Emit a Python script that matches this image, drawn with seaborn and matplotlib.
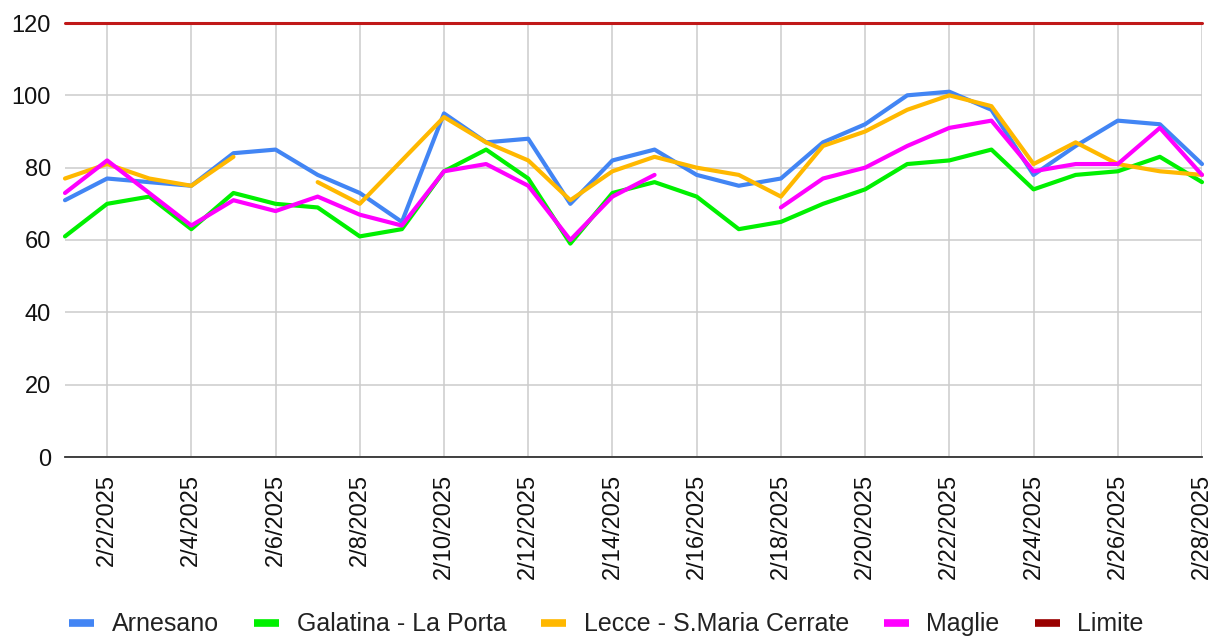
import numpy as np
import pandas as pd
import seaborn as sns
import matplotlib.pyplot as plt
from matplotlib.lines import Line2D

nan = np.nan

# Days of February 2025
days = list(range(1, 29))
tick_days = list(range(2, 29, 2))
tick_labels = [f"2/{d}/2025" for d in tick_days]

# Daily values (nan = no data)
arnesano = [71, 77, 76, 75, 84, 85, 78, 73, 65, 95, 87, 88, 70, 82,
            85, 78, 75, 77, 87, 92, 100, 101, 96, 78, 86, 93, 92, 81]
galatina = [61, 70, 72, 63, 73, 70, 69, 61, 63, 79, 85, 77, 59, 73,
            76, 72, 63, 65, 70, 74, 81, 82, 85, 74, 78, 79, 83, 76]
lecce = [77, 81, 77, 75, 83, nan, 76, 70, 82, 94, 87, 82, 71, 79,
         83, 80, 78, 72, 86, 90, 96, 100, 97, 81, 87, 81, 79, 78]
maglie = [73, 82, 73, 64, 71, 68, 72, 67, 64, 79, 81, 75, 60, 72,
          78, nan, nan, 69, 77, 80, 86, 91, 93, 79, 81, 81, 91, 78]
limite = [120] * 28

series_names = ["Arnesano", "Galatina - La Porta", "Lecce - S.Maria Cerrate", "Maglie", "Limite"]
series_values = [arnesano, galatina, lecce, maglie, limite]
colors = ["#4285F4", "#00F000", "#FFB800", "#FF00FF", "#C01818"]
legend_colors = ["#4285F4", "#00F000", "#FFB800", "#FF00FF", "#990000"]

sns.set_theme(style="whitegrid")
plt.rcParams['font.family'] = ['Liberation Sans', 'DejaVu Sans']

fig = plt.figure(figsize=(12.13, 6.37), dpi=100)
ax = fig.add_axes([65 / 1213, 1 - 457 / 637, (1202 - 65) / 1213, (457 - 23) / 637])

for name, vals, col in zip(series_names, series_values, colors):
    df = pd.DataFrame({"day": days, "value": vals})
    # break the line where data is missing
    df["seg"] = df["value"].isna().cumsum()
    df = df.dropna()
    lw = 2.2 if name == "Limite" else 3
    sns.lineplot(data=df, x="day", y="value", units="seg", estimator=None,
                 color=col, linewidth=lw, ax=ax, legend=False, clip_on=False,
                 zorder=3 if name != "Limite" else 4)

ax.set_xlim(1, 28)
ax.set_ylim(0, 120)
ax.set_xticks(tick_days)
ax.set_xticklabels(tick_labels, rotation=90, ha="center", va="top")
ax.set_yticks(range(0, 121, 20))
ax.set_xlabel("")
ax.set_ylabel("")
ax.tick_params(axis="both", length=0, labelsize=17, colors="#111111")
ax.tick_params(axis="x", pad=12)
ax.tick_params(axis="y", pad=10)
ax.grid(True, color="#cccccc", linewidth=1.1)
for s in ["top", "right", "left"]:
    ax.spines[s].set_visible(False)
ax.spines["bottom"].set_color("#333333")
ax.spines["bottom"].set_linewidth(1.3)
ax.spines["bottom"].set_zorder(5)

handles = [Line2D([0], [0], color=c, linewidth=5.5, solid_capstyle="butt") for c in legend_colors]
fig.legend(handles, series_names, loc="center", bbox_to_anchor=(0.5, 0.02), ncol=5,
           frameon=False, fontsize=18, handlelength=1.0, handletextpad=0.7,
           columnspacing=1.4, labelcolor="#222222")

fig.savefig("out.png", dpi=100)
